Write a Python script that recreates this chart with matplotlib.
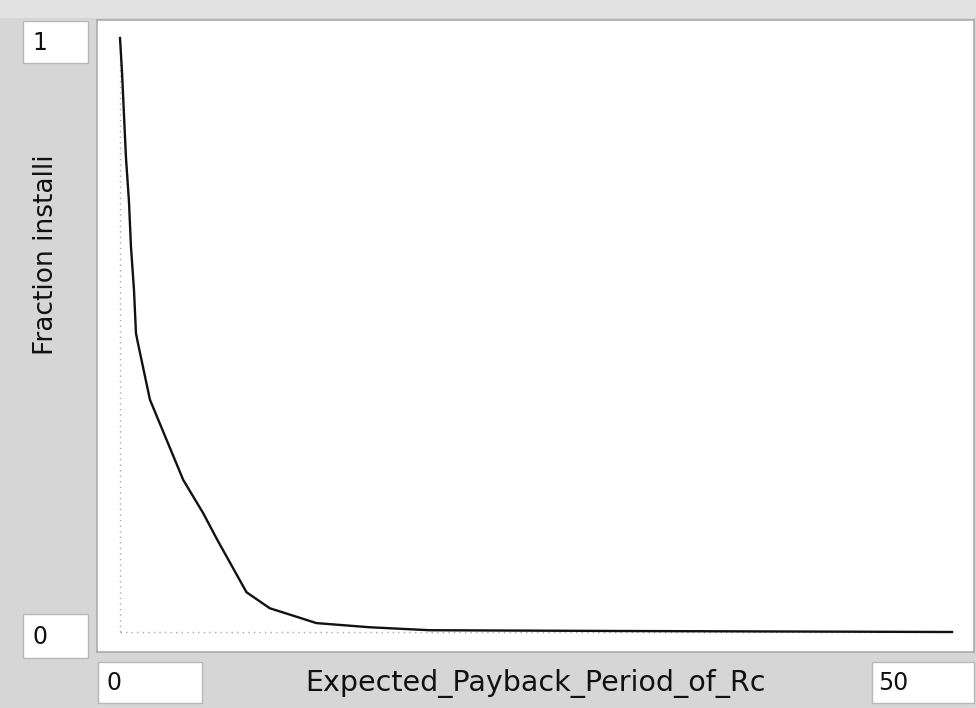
import matplotlib

matplotlib.use("Agg")

import matplotlib.pyplot as plt
from matplotlib.patches import Rectangle

# lookup points
payback = [0, 0.12, 0.24, 0.36, 0.54, 0.66, 0.84, 0.96, 1.05, 1.8, 3.8, 5.0, 5.85,
           7.6, 9.0, 10.8, 11.8, 15.0, 18.6, 30.0, 50.0]
fraction = [1.0, 0.943, 0.870, 0.798, 0.724, 0.648, 0.576, 0.503, 0.49, 0.391, 0.256,
            0.200, 0.155, 0.067, 0.040, 0.024, 0.015, 0.008, 0.003, 0.0017, 0.0]

x_label = "Expected_Payback_Period_of_Rc"
y_label = "Fraction installi"
x_range = (0, 50)
y_range = (0, 1)

W, H = 976, 708
BG = "#d6d6d6"
FONT = "DejaVu Sans"


def fx(px):
    return px / W


def fy(py):
    return 1 - py / H


def box(fig, x0, y0, x1, y1, text, pad=9):
    fig.patches.append(Rectangle((fx(x0), fy(y1)), fx(x1 - x0), (y1 - y0) / H,
                                 transform=fig.transFigure, facecolor="white",
                                 edgecolor="#b8b8b8", linewidth=1.0))
    fig.text(fx(x0 + pad), fy((y0 + y1) / 2 + 1), text, ha="left", va="center",
             fontsize=17, family=FONT, color="#111111")


fig = plt.figure(figsize=(W / 100, H / 100), dpi=100)
fig.patch.set_facecolor(BG)
fig.patches.append(Rectangle((0, fy(18)), 1, 18 / H, transform=fig.transFigure,
                             facecolor="#e2e2e2", edgecolor="none"))

# plot area in pixels
L, R, T, B = 97, 974, 20, 652
ax = fig.add_axes([fx(L), fy(B), fx(R - L), (B - T) / H])
ax.set_facecolor("white")

# data -> pixel mapping: x 0..50 -> 120..952, y 0..1 -> 632..38
sx = (952 - 120) / (x_range[1] - x_range[0])
sy = (632 - 38) / (y_range[1] - y_range[0])
ax.set_xlim(x_range[0] - (120 - L) / sx, x_range[1] + (R - 952) / sx)
ax.set_ylim(y_range[0] - (B - 632) / sy, y_range[1] + (38 - T) / sy)

ax.plot([x_range[0], x_range[0]], [y_range[0], y_range[1]], linestyle=(0, (1, 3)),
        color="#a8a8a8", linewidth=1.0)
ax.plot([x_range[0], x_range[1]], [y_range[0], y_range[0]], linestyle=(0, (1, 3)),
        color="#a8a8a8", linewidth=1.0)
ax.plot(payback, fraction, color="#111111", linewidth=1.7)

ax.set_xticks([])
ax.set_yticks([])
for s in ax.spines.values():
    s.set_color("#aaaaaa")
    s.set_linewidth(1.2)

box(fig, 23, 21, 88, 63, str(y_range[1]))
box(fig, 23, 614, 88, 658, str(y_range[0]))
box(fig, 98, 662, 202, 703, str(x_range[0]))
box(fig, 872, 662, 974, 703, str(x_range[1]), pad=6)

fig.text(fx(535), fy(683), x_label, ha="center", va="center", fontsize=20.5,
         family=FONT, color="#111111")
fig.text(fx(46), fy(255), y_label, ha="center", va="center", rotation=90,
         fontsize=19, family=FONT, color="#111111")

fig.savefig("out.png", dpi=100, facecolor=BG)
